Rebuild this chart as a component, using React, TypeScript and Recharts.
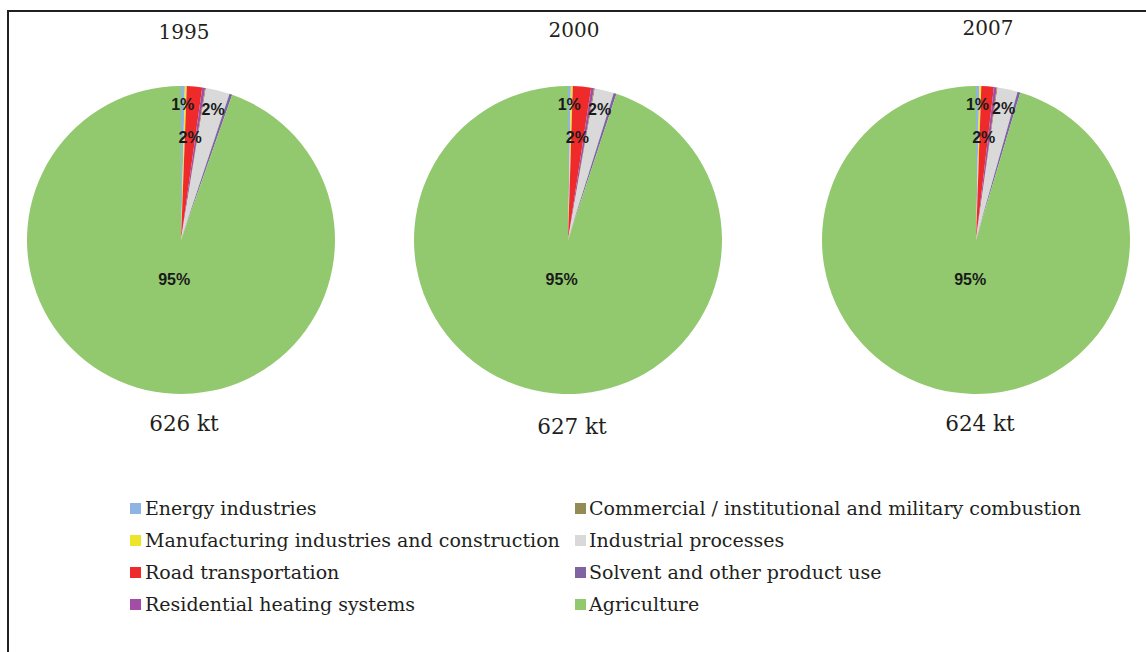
import React from 'react';
import { PieChart, Pie, Cell } from 'recharts';

// Sources, in legend / slice order (clockwise from 12 o'clock)
const sectors = [
  'Energy industries',
  'Manufacturing industries and construction',
  'Road transportation',
  'Residential heating systems',
  'Commercial / institutional and military combustion',
  'Industrial processes',
  'Solvent and other product use',
  'Agriculture'
];

const sectorColors = ['#8db4e2', '#ede628', '#ee2a2a', '#a34ea5', '#948a54', '#d9d9d9', '#8064a2', '#92c96e'];

const years = ['1995', '2000', '2007'];
const totals = ['626 kt', '627 kt', '624 kt'];

// shares in %
const share1995 = [0.4, 0.2, 1.6, 0.3, 0.1, 2.5, 0.3, 94.6];
const share2000 = [0.3, 0.2, 1.9, 0.3, 0.1, 2.0, 0.3, 94.9];
const share2007 = [0.35, 0.2, 1.3, 0.3, 0.1, 2.1, 0.3, 95.35];

// labels shown on the slices (empty = none)
const sliceLabels = ['1%', '', '2%', '', '', '2%', '', '95%'];

const shares = [share1995, share2000, share2007];

// label distance from centre, as a fraction of the radius
const LABEL_R = [0.88, 0, 0.67, 0, 0, 0.87, 0, 0.26];

const RADIAN = Math.PI / 180;
const SERIF = '"DejaVu Serif", serif';
const TEXT = '#231f20';

const renderLabel = (props: any) => {
  const { cx, cy, midAngle, outerRadius, index } = props;
  const txt = sliceLabels[index];
  if (!txt) return null;
  const r = outerRadius * LABEL_R[index];
  const x = cx + r * Math.cos(-midAngle * RADIAN);
  const y = cy + r * Math.sin(-midAngle * RADIAN);
  return (
    <text
      x={x}
      y={y}
      textAnchor="middle"
      dominantBaseline="central"
      fill="#1a1a1a"
      fontFamily='"Liberation Sans", Arial, sans-serif'
      fontWeight="bold"
      fontSize={16}
    >
      {txt}
    </text>
  );
};

const pieX = [181, 568, 976];
const titlePos = [{ x: 184, y: 32 }, { x: 574, y: 30 }, { x: 988, y: 28 }];
const totalPos = [{ x: 184, y: 424 }, { x: 572, y: 427 }, { x: 980, y: 424 }];

const App: React.FC = () => {
  const chartData = shares.map(arr => arr.map((v, i) => ({ name: sectors[i], value: v })));

  return (
    <div style={{ position: 'fixed', left: 0, top: 0, width: 1146, height: 652, overflow: 'hidden', background: '#fff' }}>
      {/* frame */}
      <div
        style={{
          position: 'absolute',
          left: 7,
          top: 10,
          width: 1146,
          height: 660,
          borderLeft: `2px solid ${TEXT}`,
          borderTop: `2px solid ${TEXT}`
        }}
      />

      <div style={{ position: 'absolute', left: 0, top: 0 }}>
        <PieChart width={1146} height={460} margin={{ top: 0, right: 0, bottom: 0, left: 0 }}>
          {chartData.map((d, k) => (
            <Pie
              key={years[k]}
              data={d}
              dataKey="value"
              nameKey="name"
              cx={pieX[k]}
              cy={240}
              outerRadius={154}
              startAngle={90}
              endAngle={-270}
              stroke="none"
              label={renderLabel}
              labelLine={false}
              isAnimationActive={false}
            >
              {d.map((_, i) => (
                <Cell key={i} fill={sectorColors[i]} />
              ))}
            </Pie>
          ))}
        </PieChart>
      </div>

      {years.map((y, k) => (
        <div
          key={y}
          style={{
            position: 'absolute',
            left: titlePos[k].x - 60,
            top: titlePos[k].y - 13,
            width: 120,
            textAlign: 'center',
            fontFamily: SERIF,
            fontSize: 20,
            lineHeight: '26px',
            color: TEXT
          }}
        >
          {y}
        </div>
      ))}

      {totals.map((t, k) => (
        <div
          key={t}
          style={{
            position: 'absolute',
            left: totalPos[k].x - 80,
            top: totalPos[k].y - 13,
            width: 160,
            textAlign: 'center',
            fontFamily: SERIF,
            fontSize: 21.5,
            lineHeight: '26px',
            color: TEXT
          }}
        >
          {t}
        </div>
      ))}

      {/* legend, two columns of four */}
      {sectors.map((s, i) => {
        const col = i < 4 ? 0 : 1;
        const row = i % 4;
        return (
          <div
            key={s}
            style={{
              position: 'absolute',
              left: col === 0 ? 130 : 575,
              top: 508 + row * 32 - 12,
              height: 24,
              display: 'flex',
              alignItems: 'center',
              whiteSpace: 'nowrap',
              fontFamily: SERIF,
              fontSize: 19,
              color: TEXT
            }}
          >
            <span style={{ display: 'inline-block', width: 11, height: 11, background: sectorColors[i], marginRight: col === 0 ? 4 : 3 }} />
            <span>{s}</span>
          </div>
        );
      })}
    </div>
  );
};

export default App;
